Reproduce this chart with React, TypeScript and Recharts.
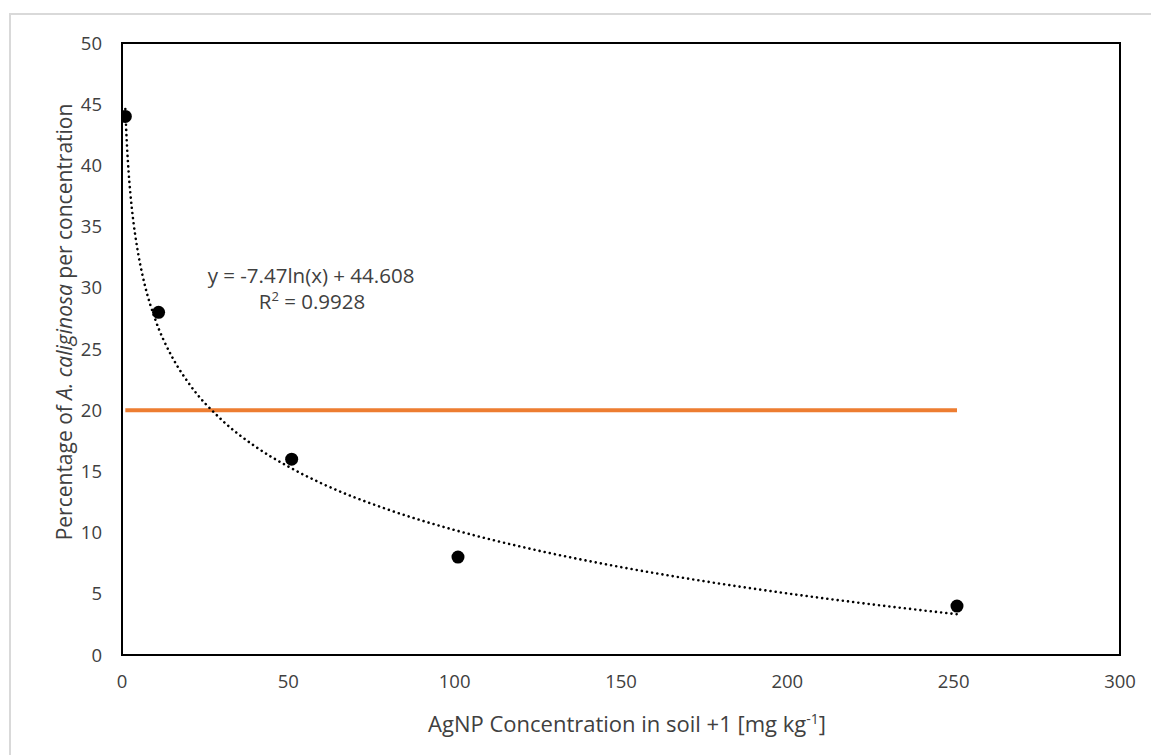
import React from "react";
import {
  ComposedChart,
  Line,
  Scatter,
  XAxis,
  YAxis,
  ReferenceArea,
  Customized,
} from "recharts";

// Observed data (AgNP concentration + 1, percentage of A. caliginosa)
const concentrations = [1, 11, 51, 101, 251];
const percentages = [44, 28, 16, 8, 4];

// Logarithmic trendline values
const trendX = [1, 1.5, 2, 3, 4, 5, 7, 10, 15, 20, 30, 40, 50, 60, 80, 100, 125, 150, 175, 200, 225, 251];
const trendY = [44.61, 41.58, 39.43, 36.4, 34.25, 32.59, 30.07, 27.41, 24.38, 22.23, 19.2, 17.05, 15.39, 14.02, 11.88, 10.21, 8.54, 7.18, 6.03, 5.03, 4.15, 3.33];

// Threshold line
const thresholdX = [1, 251];
const thresholdY = [20, 20];

const xTicks = [0, 50, 100, 150, 200, 250, 300];
const yTicks = [0, 5, 10, 15, 20, 25, 30, 35, 40, 45, 50];

const equationText = "y = -7.47ln(x) + 44.608";
const r2Value = "0.9928";

const scatterData = concentrations.map((x, i) => ({ x, y: percentages[i] }));
const trendData = trendX.map((x, i) => ({ x, y: trendY[i] }));
const thresholdData = thresholdX.map((x, i) => ({ x, y: thresholdY[i] }));

const FONT = "'Open Sans', sans-serif";
const TEXT = "#404040";

const Annotations = () => (
  <g fontFamily={FONT} fill={TEXT}>
    <text x={311} y={283} fontSize={20.5} textAnchor="middle">
      {equationText}
    </text>
    <text x={312} y={309} fontSize={20.5} textAnchor="middle">
      R<tspan dy={-8} fontSize={13}>2</tspan>
      <tspan dy={8}> = {r2Value}</tspan>
    </text>
    <text
      x={0}
      y={0}
      fontSize={21}
      textAnchor="middle"
      transform="translate(72, 322) rotate(-90)"
    >
      Percentage of <tspan fontStyle="italic">A. caliginosa</tspan> per concentration
    </text>
    <text x={627} y={732} fontSize={22} textAnchor="middle">
      AgNP Concentration in soil +1 [mg kg
      <tspan dy={-8} fontSize={14}>-1</tspan>
      <tspan dy={8}>]</tspan>
    </text>
  </g>
);

export default function App() {
  return (
    <div
      style={{
        position: "fixed",
        left: 0,
        top: 0,
        width: 1151,
        height: 755,
        overflow: "hidden",
        background: "#fff",
      }}
    >
      <div
        style={{
          position: "absolute",
          left: 9,
          top: 13,
          width: 1200,
          height: 800,
          borderLeft: "2px solid #d9d9d9",
          borderTop: "2px solid #d9d9d9",
        }}
      />
      <div style={{ position: "absolute", left: 0, top: 0 }}>
        <ComposedChart
          width={1151}
          height={755}
          margin={{ top: 43, right: 31, bottom: 40, left: 62 }}
        >
          <XAxis
            type="number"
            dataKey="x"
            domain={[0, 300]}
            ticks={xTicks}
            allowDataOverflow
            height={60}
            tickSize={0}
            tickMargin={20}
            axisLine={{ stroke: "#000", strokeWidth: 2 }}
            tick={{ fill: TEXT, fontSize: 18.5, fontFamily: FONT }}
          />
          <YAxis
            type="number"
            dataKey="y"
            domain={[0, 50]}
            ticks={yTicks}
            allowDataOverflow
            width={60}
            tickSize={0}
            tickMargin={20}
            axisLine={{ stroke: "#000", strokeWidth: 2 }}
            tick={{ fill: TEXT, fontSize: 18.5, fontFamily: FONT }}
          />
          <ReferenceArea
            x1={0}
            x2={300}
            y1={0}
            y2={50}
            fill="none"
            stroke="#000"
            strokeWidth={2}
            ifOverflow="extendDomain"
          />
          <Line
            data={thresholdData}
            dataKey="y"
            type="linear"
            stroke="#ED7D31"
            strokeWidth={4}
            dot={false}
            isAnimationActive={false}
          />
          <Line
            data={trendData}
            dataKey="y"
            type="monotone"
            stroke="#000"
            strokeWidth={2.6}
            strokeDasharray="0.01 5.2"
            strokeLinecap="round"
            dot={false}
            isAnimationActive={false}
          />
          <Scatter
            data={scatterData}
            dataKey="y"
            fill="#000"
            shape={(p: any) => <circle cx={p.cx} cy={p.cy} r={6.5} fill="#000" />}
            isAnimationActive={false}
          />
          <Customized component={Annotations} />
        </ComposedChart>
      </div>
    </div>
  );
}
